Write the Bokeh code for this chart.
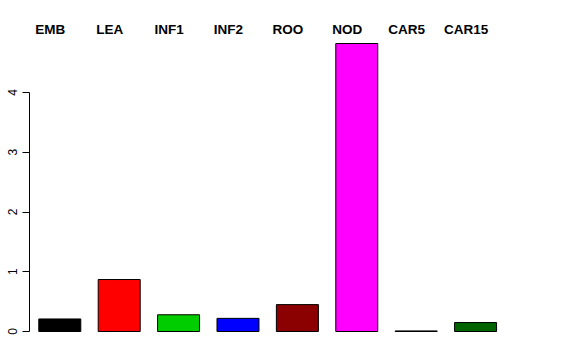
from bokeh.plotting import figure
from bokeh.models import ColumnDataSource, Range1d, FixedTicker
from bokeh.core.properties import value
from bokeh.embed import file_html
from bokeh.resources import INLINE

categories = ["EMB", "LEA", "INF1", "INF2", "ROO", "NOD", "CAR5", "CAR15"]
values = [0.21, 0.87, 0.28, 0.22, 0.45, 4.82, 0.01, 0.15]
colors = ["#000000", "#FF0000", "#00CD00", "#0000FF", "#8B0000", "#FF00FF", "#BEBEBE", "#006400"]
y_ticks = [0, 1, 2, 3, 4]
label_y = 5.05

xs = list(range(len(categories)))
src = ColumnDataSource(dict(x=xs, top=values, color=colors, cat=categories))

p = figure(width=576, height=360, output_backend="svg", toolbar_location=None,
           x_range=Range1d(-0.510, 8.194), y_range=Range1d(-0.184, 5.205),
           min_border_left=29, min_border_right=30, min_border_top=20, min_border_bottom=18)
p.background_fill_color = "white"
p.border_fill_color = "white"
p.outline_line_color = None
p.grid.visible = False
p.xaxis.visible = False

p.vbar(x="x", top="top", bottom=0, width=0.707, fill_color="color",
       line_color="black", line_width=1, source=src)

p.text(x="x", y=label_y, text="cat", source=src, x_offset=-9.5,
       text_font=value("Liberation Sans"), text_font_style="bold",
       text_font_size="13.5px", text_align="center", text_baseline="middle",
       text_color="black")

ya = p.yaxis[0]
ya.ticker = FixedTicker(ticks=y_ticks)
ya.bounds = (0, 4)
ya.minor_tick_line_color = None
ya.major_tick_out = 7
ya.major_tick_in = 0
ya.major_label_standoff = 5
ya.major_label_orientation = "vertical"
ya.major_label_text_font = "Liberation Sans"
ya.major_label_text_font_size = "12px"
ya.major_label_text_color = "black"
ya.axis_line_color = "black"
ya.major_tick_line_color = "black"

open("out.html", "w").write(file_html(p, INLINE))
